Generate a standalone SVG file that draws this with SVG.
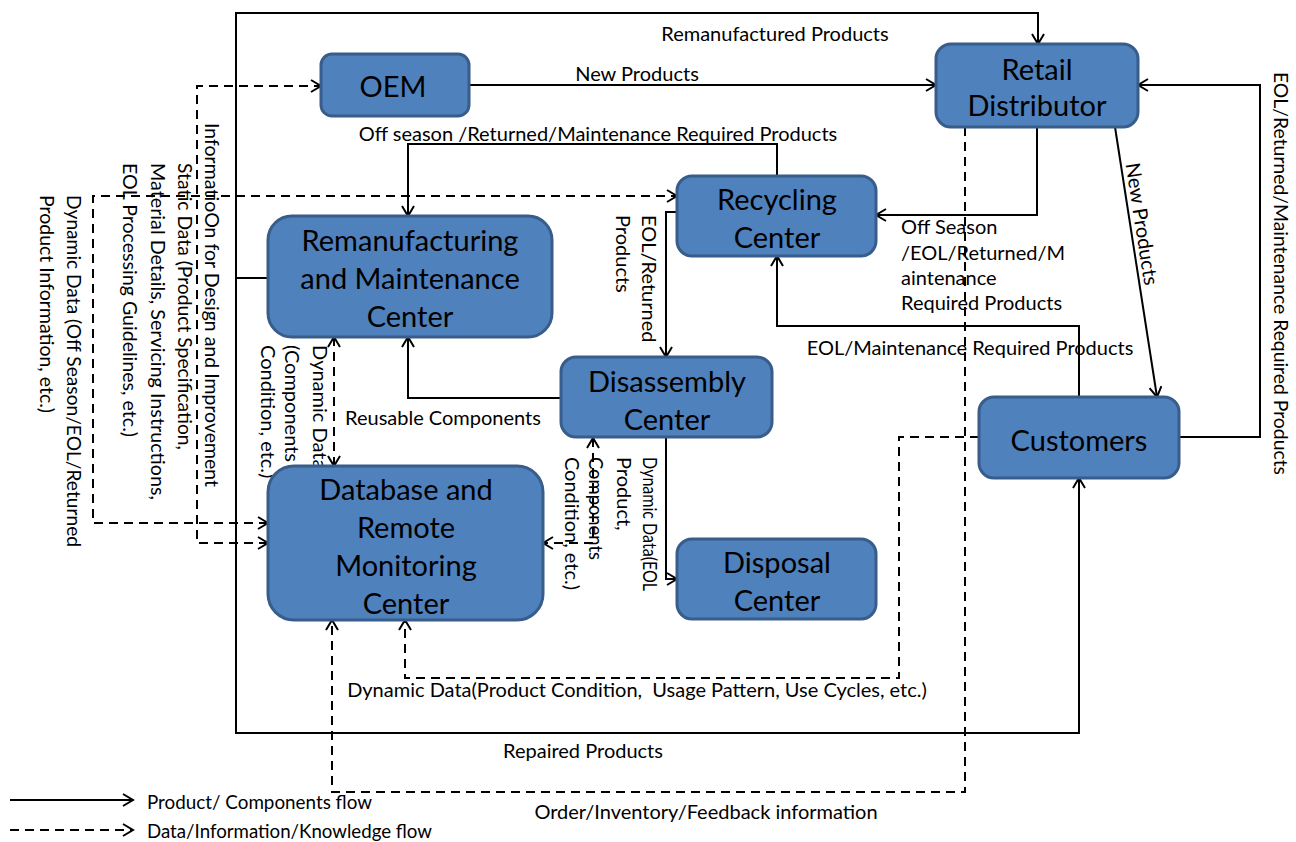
<svg xmlns="http://www.w3.org/2000/svg" width="1296" height="842" viewBox="0 0 1296 842">
<defs>
<style>
.node rect{fill:#4f81bd;stroke:#385d8a;stroke-width:3}
.node text{font-family:Lato,"Open Sans","DejaVu Sans",sans-serif;font-size:29px;fill:#000;text-anchor:middle}
.c{fill:none;stroke:#000;stroke-width:2}
.d{fill:none;stroke:#000;stroke-width:2;stroke-dasharray:9,6}
.lbl{font-family:Lato,"Open Sans","DejaVu Sans",sans-serif;font-size:20px;fill:#000}
.mid{text-anchor:middle}
</style>
<marker id="a" viewBox="0 0 14 14" refX="12" refY="7" markerWidth="14" markerHeight="14" markerUnits="userSpaceOnUse" orient="auto-start-reverse">
<path d="M2,1 L12,7 L2,13" fill="none" stroke="#000" stroke-width="2"/>
</marker>
</defs>
<rect width="1296" height="842" fill="#fff"/>

<g id="connectors">
<path class="c" d="M268,278 H236 V13 H1038 V44" marker-end="url(#a)"/>
<path class="c" d="M236,278 V733 H1079 V478" marker-end="url(#a)"/>
<path class="c" d="M469,85 H936" marker-end="url(#a)"/>
<path class="c" d="M777,176 V144 H408 V216" marker-end="url(#a)"/>
<path class="c" d="M1037,127 V215 H876" marker-end="url(#a)"/>
<path class="c" d="M1115,127 L1157,397" marker-end="url(#a)"/>
<path class="c" d="M1179,437 H1260 V85 H1138" marker-end="url(#a)"/>
<path class="c" d="M1079,397 V326 H777 V256" marker-end="url(#a)"/>
<path class="c" d="M677,212 H666 V357" marker-end="url(#a)"/>
<path class="c" d="M561,398 H408 V337" marker-end="url(#a)"/>
<path class="c" d="M666,437 V579 H677" marker-end="url(#a)"/>
<path class="d" d="M334,337 V466" marker-start="url(#a)" marker-end="url(#a)"/>
<path class="d" d="M593,438 V543 H543" marker-start="url(#a)" marker-end="url(#a)"/>
<path class="d" d="M268,543 H197 V86 H321" marker-start="url(#a)" marker-end="url(#a)"/>
<path class="d" d="M268,523 H93 V196 H677" marker-start="url(#a)" marker-end="url(#a)"/>
<path class="d" d="M965,127 V792 H332 V620" marker-end="url(#a)"/>
<path class="d" d="M979,437 H899 V678 H405 V620" marker-end="url(#a)"/>

<text class="lbl mid" x="775" y="41">Remanufactured Products</text>
<text class="lbl mid" x="637" y="81">New Products</text>
<text class="lbl mid" x="598" y="141">Off season /Returned/Maintenance Required  Products</text>
<text class="lbl" x="901" y="234">Off Season</text>
<text class="lbl" x="901" y="260">/EOL/Returned/M</text>
<text class="lbl" x="901" y="285">aintenance</text>
<text class="lbl" x="901" y="310">Required Products</text>
<text class="lbl mid" x="970" y="355">EOL/Maintenance Required Products</text>
<text class="lbl mid" x="443" y="425">Reusable Components</text>
<text class="lbl mid" x="637" y="697" xml:space="preserve">Dynamic Data(Product Condition,  Usage Pattern, Use Cycles, etc.)</text>
<text class="lbl mid" x="583" y="758">Repaired Products</text>
<text class="lbl mid" x="706" y="819">Order/Inventory/Feedback information</text>
<text class="lbl mid" transform="translate(1135,225) rotate(81.2)">New Products</text>
<text class="lbl" transform="translate(1274,72) rotate(90)" textLength="403" lengthAdjust="spacingAndGlyphs">EOL/Returned/Maintenance Required Products</text>
<text class="lbl" transform="translate(642,215) rotate(90)">EOL/Returned</text>
<text class="lbl" transform="translate(616,215) rotate(90)">Products</text>
<text class="lbl" transform="translate(643,457) rotate(90)" textLength="134" lengthAdjust="spacingAndGlyphs">Dynamic Data(EOL</text>
<text class="lbl" transform="translate(617,457) rotate(90)">Product,</text>
<text class="lbl" transform="translate(589,457) rotate(90)" textLength="103" lengthAdjust="spacingAndGlyphs">Components</text>
<text class="lbl" transform="translate(565,457) rotate(90)" textLength="133" lengthAdjust="spacingAndGlyphs">Condition, etc.)</text>
<text class="lbl" transform="translate(313,345) rotate(90)">Dynamic Data</text>
<text class="lbl" transform="translate(285,345) rotate(90)">(Components</text>
<text class="lbl" transform="translate(261,345) rotate(90)">Condition, etc.)</text>
<text class="lbl" transform="translate(205,123) rotate(90)" textLength="364" lengthAdjust="spacingAndGlyphs">InformatioOn for Design and Improvement</text>
<text class="lbl" transform="translate(178,163) rotate(90)" textLength="287" lengthAdjust="spacingAndGlyphs">Static Data (Product Specification,</text>
<text class="lbl" transform="translate(151,163) rotate(90)" textLength="337" lengthAdjust="spacingAndGlyphs">Material Details, Servicing Instructions,</text>
<text class="lbl" transform="translate(123,163) rotate(90)" textLength="274" lengthAdjust="spacingAndGlyphs">EOL Processing Guidelines, etc.)</text>
<text class="lbl" transform="translate(67,195) rotate(90)" textLength="352" lengthAdjust="spacingAndGlyphs">Dynamic Data (Off Season/EOL/Returned</text>
<text class="lbl" transform="translate(40,195) rotate(90)" textLength="218" lengthAdjust="spacingAndGlyphs">Product Information, etc.)</text>
</g>

<g id="oem" class="node"><rect x="321" y="54" width="148" height="62" rx="11"/><text x="393" y="97">OEM</text></g>
<g id="retail" class="node"><rect x="936" y="44" width="202" height="83" rx="15"/><text x="1037" y="80">Retail</text><text x="1037" y="116">Distributor</text></g>
<g id="recycling" class="node"><rect x="677" y="176" width="199" height="80" rx="15"/><text x="777" y="210">Recycling</text><text x="777" y="248">Center</text></g>
<g id="reman" class="node"><rect x="268" y="216" width="284" height="121" rx="24"/><text x="410" y="251">Remanufacturing</text><text x="410" y="289">and Maintenance</text><text x="410" y="327">Center</text></g>
<g id="disassembly" class="node"><rect x="561" y="357" width="211" height="80" rx="15"/><text x="667" y="392">Disassembly</text><text x="667" y="430">Center</text></g>
<g id="database" class="node"><rect x="268" y="466" width="275" height="154" rx="26"/><text x="406" y="500">Database and</text><text x="406" y="538">Remote</text><text x="406" y="576">Monitoring</text><text x="406" y="614">Center</text></g>
<g id="disposal" class="node"><rect x="677" y="539" width="199" height="80" rx="15"/><text x="777" y="573">Disposal</text><text x="777" y="611">Center</text></g>
<g id="customers" class="node"><rect x="979" y="397" width="200" height="81" rx="15"/><text x="1079" y="451">Customers</text></g>

<g id="legend">
<path class="c" d="M10,800 H133" marker-end="url(#a)"/>
<path class="d" d="M10,830 H133" marker-end="url(#a)"/>
<text class="lbl" x="147" y="809" style="font-size:18.5px" textLength="225" lengthAdjust="spacingAndGlyphs">Product/ Components flow</text>
<text class="lbl" x="147" y="838" style="font-size:18.5px" textLength="285" lengthAdjust="spacingAndGlyphs">Data/Information/Knowledge flow</text>
</g>
</svg>
